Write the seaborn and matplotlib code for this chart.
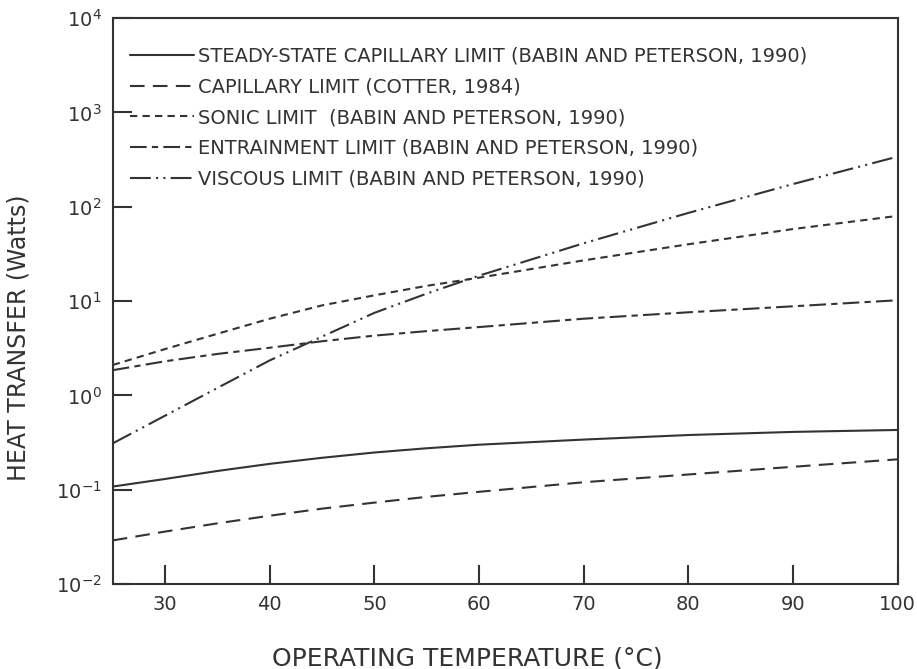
import matplotlib
matplotlib.use("Agg")
import matplotlib.pyplot as plt
import seaborn as sns
import pandas as pd

# operating temperature (deg C)
temps = [25, 30, 35, 40, 45, 50, 55, 60, 70, 80, 90, 100]

# heat transfer limits (Watts)
steady_cap = [0.108, 0.13, 0.158, 0.188, 0.218, 0.248, 0.275, 0.30, 0.34, 0.38, 0.41, 0.43]
cotter_cap = [0.029, 0.036, 0.044, 0.053, 0.063, 0.073, 0.084, 0.095, 0.12, 0.145, 0.175, 0.21]
sonic = [2.1, 3.1, 4.5, 6.5, 9.0, 11.5, 14.5, 17.7, 27, 40, 58, 80]
entrainment = [1.85, 2.3, 2.75, 3.2, 3.75, 4.3, 4.8, 5.3, 6.5, 7.6, 8.8, 10.2]
viscous = [0.31, 0.61, 1.2, 2.35, 4.2, 7.5, 12, 18.6, 41, 86, 174, 340]

labels = [
    "STEADY-STATE CAPILLARY LIMIT (BABIN AND PETERSON, 1990)",
    "CAPILLARY LIMIT (COTTER, 1984)",
    "SONIC LIMIT  (BABIN AND PETERSON, 1990)",
    "ENTRAINMENT LIMIT (BABIN AND PETERSON, 1990)",
    "VISCOUS LIMIT (BABIN AND PETERSON, 1990)",
]
series = [steady_cap, cotter_cap, sonic, entrainment, viscous]

rows = []
for lab, vals in zip(labels, series):
    for t, v in zip(temps, vals):
        rows.append({"temp": t, "q": v, "limit": lab})
df = pd.DataFrame(rows)

dashes = {
    labels[0]: "",
    labels[1]: (7, 4),
    labels[2]: (3.5, 2.5),
    labels[3]: (8, 2.5, 3, 2.5),
    labels[4]: (10, 2.5, 1, 2.5, 1, 2.5),
}

sns.set_style("ticks")
plt.rcParams["font.family"] = ["DejaVu Sans"]

fig = plt.figure(figsize=(9.17, 6.69), dpi=100)
ax = fig.add_axes([0.123, 0.127, 0.856, 0.846])

sns.lineplot(data=df, x="temp", y="q", style="limit", style_order=labels,
             dashes=dashes, color="#333333", linewidth=1.5, ax=ax)

ax.set_yscale("log")
ax.set_xlim(25, 100)
ax.set_ylim(1e-2, 1e4)
ax.set_xticks([30, 40, 50, 60, 70, 80, 90, 100])
ax.set_xticklabels(["30", "40", "50", "60", "70", "80", "90", "100"])
ax.set_yticks([1e-2, 1e-1, 1e0, 1e1, 1e2, 1e3, 1e4])
ax.yaxis.set_minor_locator(matplotlib.ticker.NullLocator())
ax.tick_params(direction="in", length=14, width=1.5, color="#333333",
               labelsize=14, labelcolor="#333333", pad=8)
for sp in ax.spines.values():
    sp.set_linewidth(1.5)
    sp.set_color("#333333")

ax.set_xlabel("OPERATING TEMPERATURE (°C)", fontsize=18, color="#333333")
ax.set_ylabel("HEAT TRANSFER (Watts)", fontsize=17, color="#333333")
ax.xaxis.set_label_coords(0.452, -0.11)
ax.yaxis.set_label_coords(-0.105, 0.436)

handles, labs = ax.get_legend_handles_labels()
ax.legend(handles, labs, loc="upper left", bbox_to_anchor=(0.0, 0.98),
          frameon=False, fontsize=14, handlelength=3.3, handletextpad=0.2,
          labelspacing=0.6, labelcolor="#333333")

fig.savefig("out.png", dpi=100)
